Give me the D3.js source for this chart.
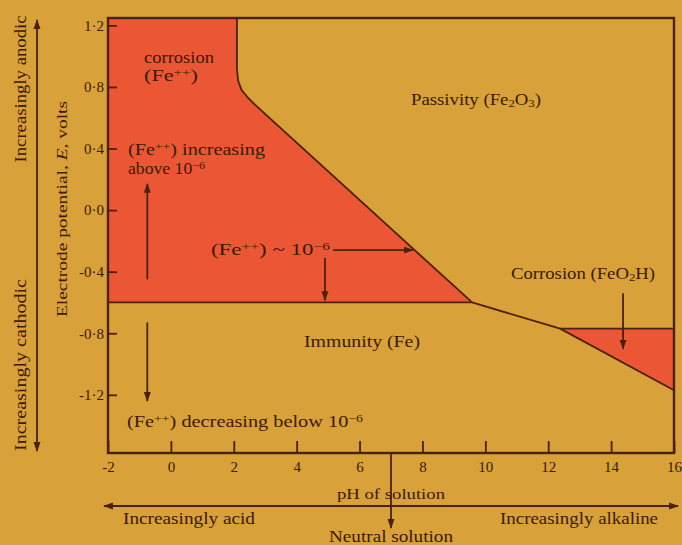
<!DOCTYPE html>
<html><head><meta charset="utf-8">
<script src="https://cdn.jsdelivr.net/npm/d3@7"></script>
<style>
html,body{margin:0;padding:0;background:#d8a139;}
svg{display:block;}
text{font-family:"Liberation Serif","DejaVu Serif",serif;fill:#3a1a06;}
</style></head>
<body>
<svg id="c" width="682" height="545"></svg>
<script>
// ---- data ----
const xTicks = [-2, 0, 2, 4, 6, 8, 10, 12, 14, 16];
const yTicks = [1.2, 0.8, 0.4, 0.0, -0.4, -0.8, -1.2];
const pHDomain = [-2, 16];
const EDomain = [-1.578, 1.248];
// Fe++ corrosion / passivity boundary (pH, E)
const fe2Boundary = [[2.1, 1.248], [2.1, 0.92], [2.14, 0.84], [2.25, 0.78], [2.45, 0.73], [2.75, 0.67], [9.58, -0.60]];
// immunity / Fe++ corrosion level
const immunityLevel = -0.60;
// immunity / passivity and immunity / FeO2H boundary
const immunityUpper = [[9.58, -0.60], [12.38, -0.77], [16, -1.17]];
// FeO2H corrosion / passivity level
const feo2hLevel = -0.77;
// annotation arrows [pH1, E1, pH2, E2]
const arrowsData = [
  [-0.75, -0.45, -0.75, 0.17],
  [-0.75, -0.73, -0.75, -1.24],
  [5.16, -0.26, 7.70, -0.26],
  [4.90, -0.31, 4.90, -0.585],
  [14.38, -0.54, 14.38, -0.90]
];

const L = 108, R = 674, T = 18, B = 453;
const x = d3.scaleLinear().domain(pHDomain).range([L, R]);
const y = d3.scaleLinear().domain(EDomain).range([B, T]);

const red = "#eb5734", ink = "#4a220a";
const svg = d3.select("#c");

const defs = svg.append("defs");
defs.append("marker").attr("id", "ah").attr("viewBox", "0 0 10 10")
  .attr("refX", 9).attr("refY", 5).attr("markerWidth", 5.5).attr("markerHeight", 5.5)
  .attr("orient", "auto-start-reverse")
  .append("path").attr("d", "M0,1.5 L10,5 L0,8.5 Z").attr("fill", ink);

const line = d3.line().x(d => x(d[0])).y(d => y(d[1]));

// red region 1 : Fe++ corrosion
const region1 = fe2Boundary.concat([[pHDomain[0], immunityLevel], [pHDomain[0], EDomain[1]]]);
svg.append("path").attr("d", line(region1) + "Z").attr("fill", red);
// red region 2 : FeO2H corrosion
const region2 = [immunityUpper[1], [pHDomain[1], feo2hLevel], immunityUpper[2]];
svg.append("path").attr("d", line(region2) + "Z").attr("fill", red);

// boundaries
const bnd = svg.append("g").attr("fill", "none").attr("stroke", ink).attr("stroke-width", 1.8);
bnd.append("path").attr("d", line(fe2Boundary));
bnd.append("path").attr("d", line([[pHDomain[0], immunityLevel], fe2Boundary[fe2Boundary.length - 1]]));
bnd.append("path").attr("d", line(immunityUpper));
bnd.append("path").attr("d", line([immunityUpper[1], [pHDomain[1], feo2hLevel]]));

// axes
const fmt = v => d3.format(".1f")(v).replace(".", "·").replace("−", "-");
const yAxis = svg.append("g").attr("transform", `translate(${L},0)`)
  .call(d3.axisLeft(y).tickValues(yTicks).tickSize(-9).tickPadding(4).tickFormat(fmt));
const xAxis = svg.append("g").attr("transform", `translate(0,${B})`)
  .call(d3.axisBottom(x).tickValues(xTicks).tickSize(-12).tickPadding(8).tickFormat(d => String(d)));
[yAxis, xAxis].forEach(g => {
  g.select(".domain").remove();
  g.selectAll(".tick line").attr("stroke", ink).attr("stroke-width", 1.8);
  g.selectAll(".tick text").attr("font-family", "Liberation Serif").attr("font-size", 15).attr("fill", "#3a1a06");
});

// frame
svg.append("rect").attr("x", L).attr("y", T).attr("width", R - L).attr("height", B - T)
  .attr("fill", "none").attr("stroke", ink).attr("stroke-width", 2.4);

// arrows
svg.append("g").selectAll("line").data(arrowsData).join("line")
  .attr("x1", d => x(d[0])).attr("y1", d => y(d[1]))
  .attr("x2", d => x(d[2])).attr("y2", d => y(d[3]))
  .attr("stroke", ink).attr("stroke-width", 1.8).attr("marker-end", "url(#ah)");

// text helper: parts = [[text, kind]] kind: n, sup, sub, i ; opts.w = target width
function rich(xp, yp, parts, opts = {}) {
  const t = svg.append("text").attr("x", xp).attr("y", yp)
    .attr("font-size", opts.size || 16)
    .attr("text-anchor", opts.anchor || "start");
  if (opts.rotate) t.attr("transform", `rotate(-90,${xp},${yp})`);
  parts.forEach(([s, k]) => {
    const ts = t.append("tspan").text(s);
    if (k === "sup") ts.attr("font-size", "68%").attr("baseline-shift", "42%");
    if (k === "sub") ts.attr("font-size", "68%").attr("baseline-shift", "-22%");
    if (k === "i") ts.attr("font-style", "italic");
  });
  if (opts.w) t.attr("textLength", opts.w).attr("lengthAdjust", "spacingAndGlyphs");
  return t;
}

rich(144, 63, [["corrosion", "n"]], {w: 70});
rich(144, 81, [["(Fe", "n"], ["++", "sup"], [")", "n"]], {w: 54});
rich(128, 155, [["(Fe", "n"], ["++", "sup"], [") increasing", "n"]], {w: 137});
rich(128, 174, [["above 10", "n"], ["−6", "sup"]], {w: 77});
rich(127, 427, [["(Fe", "n"], ["++", "sup"], [") decreasing below 10", "n"], ["−6", "sup"]], {w: 236});
rich(211, 255, [["(Fe", "n"], ["++", "sup"], [") ~ 10", "n"], ["−6", "sup"]], {w: 119});
rich(476, 105, [["Passivity (Fe", "n"], ["2", "sub"], ["O", "n"], ["3", "sub"], [")", "n"]], {anchor: "middle", w: 130});
rich(362, 347, [["Immunity (Fe)", "n"]], {anchor: "middle", w: 116});
rich(583, 279, [["Corrosion (FeO", "n"], ["2", "sub"], ["H)", "n"]], {anchor: "middle", w: 144});

// axis titles
rich(67, 209, [["Electrode potential, ", "n"], ["E", "i"], [", volts", "n"]], {anchor: "middle", rotate: true, size: 15, w: 216});
rich(26, 89, [["Increasingly anodic", "n"]], {anchor: "middle", rotate: true, w: 147});
rich(26, 365, [["Increasingly cathodic", "n"]], {anchor: "middle", rotate: true, w: 172});
rich(x(7), 499, [["pH of solution", "n"]], {anchor: "middle", size: 15, w: 108});
rich(123, 524, [["Increasingly acid", "n"]], {w: 132});
rich(658, 524, [["Increasingly alkaline", "n"]], {anchor: "end", w: 158});
rich(x(7), 542, [["Neutral solution", "n"]], {anchor: "middle", w: 124});

// outer arrows
const outer = svg.append("g").attr("stroke", ink).attr("stroke-width", 1.8).attr("fill", "none");
outer.append("line").attr("x1", 37).attr("x2", 37).attr("y1", 20).attr("y2", 451)
  .attr("marker-start", "url(#ah)").attr("marker-end", "url(#ah)");
outer.append("line").attr("x1", 104).attr("x2", 678).attr("y1", 506).attr("y2", 506)
  .attr("marker-start", "url(#ah)").attr("marker-end", "url(#ah)");
outer.append("line").attr("x1", x(7)).attr("x2", x(7)).attr("y1", B).attr("y2", 528)
  .attr("marker-end", "url(#ah)");
</script>
</body></html>
